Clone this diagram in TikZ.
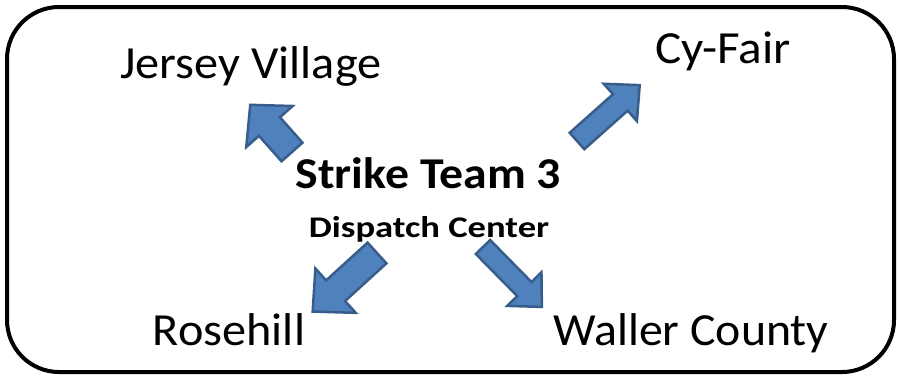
\documentclass[tikz,border=0pt]{standalone}
\usepackage{fontspec}
\setmainfont{Carlito}
\definecolor{arrfill}{HTML}{4F81BD}
\definecolor{arrline}{HTML}{385D8A}
\tikzset{
  place/.style={anchor=base, inner sep=0pt, font=\fontsize{46}{50}\selectfont},
  titletext/.style={anchor=base, inner sep=0pt, font=\fontsize{44}{48}\selectfont\bfseries},
  subtext/.style={anchor=base, inner sep=0pt, font=\fontsize{30}{34}\selectfont\bfseries},
  blockarrow/.style={fill=arrfill, draw=arrline, line width=2.5pt, line join=miter},
  frame/.style={draw=black, line width=4pt, rounded corners=52pt}
}
\newcommand{\wide}[2]{\scalebox{#1}[1]{#2}}
% #1 tail centre, #2 math angle, #3 length, #4 shaft half width, #5 head half width, #6 head length
\newcommand{\blockarr}[6]{%
  \begin{scope}[shift={#1}, rotate=#2]
    \path[blockarrow] (0,-#4) -- ({#3-#6},-#4) -- ({#3-#6},-#5) -- (#3,0)
      -- ({#3-#6},#5) -- ({#3-#6},#4) -- (0,#4) -- cycle;
  \end{scope}}
\begin{document}
\begin{tikzpicture}[x=1pt, y=-1pt]
  \useasboundingbox (0,0) rectangle (899,376);
  \draw[frame] (7,7) rectangle (894,372);

  \node[place] (jv) at (251,78) {\wide{1.05}{Jersey Village}};
  \node[place] (cf) at (723,63) {\wide{1.07}{Cy-Fair}};
  \node[place] (rh) at (229,345) {\wide{1.05}{Rosehill}};
  \node[place] (wc) at (691,345) {\wide{1.04}{Waller County}};
  \node[titletext] (st) at (428.5,188) {\wide{1.086}{Strike Team 3}};
  \node[subtext] (dc) at (429,237) {\wide{1.22}{Dispatch Center}};

  \blockarr{(292,152)}{131.5}{63}{14}{31}{29}
  \blockarr{(577,141)}{41.7}{84}{11}{25}{26}
  \blockarr{(377,253)}{-137.7}{87}{14}{30}{31}
  \blockarr{(483,247)}{-45.5}{84}{10}{24}{25}
\end{tikzpicture}
\end{document}
